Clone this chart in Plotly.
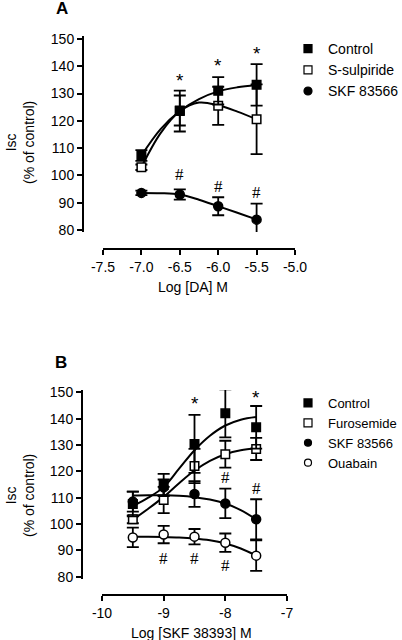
import plotly.graph_objects as go

# ---------------- data: panel A ----------------
da_x = [-7.0, -6.5, -6.0, -5.5]
a_control = [107.3, 123.6, 131.0, 133.2]
a_control_err = [2.0, 7.5, 5.0, 7.6]
a_sulp = [103.0, 123.8, 125.5, 120.6]
a_sulp_err = [1.0, 5.5, 7.0, 12.8]
a_skf = [93.6, 93.0, 88.7, 83.8]
a_skf_err = [0.8, 1.9, 3.3, 5.9]

a_fit_x = [-7.0, -6.75, -6.5, -6.25, -6.0, -5.75, -5.5]
a_fit_control = [107.3, 117.0, 123.6, 128.0, 130.8, 132.3, 133.2]
a_fit_sulp = [103.0, 115.5, 123.5, 126.7, 125.7, 123.4, 120.6]
a_fit_skf = [93.6, 93.5, 93.0, 91.1, 88.7, 86.3, 83.8]

a_xticks = [-7.5, -7.0, -6.5, -6.0, -5.5, -5.0]
a_xticktext = ["-7.5", "-7.0", "-6.5", "-6.0", "-5.5", "-5.0"]

# ---------------- data: panel B ----------------
skf_x = [-9.5, -9.0, -8.5, -8.0, -7.5]
b_control = [107.6, 114.8, 130.4, 142.0, 136.7]
b_control_err = [4.7, 4.2, 11.0, 9.1, 8.1]
b_furo = [101.8, 109.1, 122.0, 126.5, 128.5]
b_furo_err = [1.5, 5.0, 6.5, 5.1, 4.2]
b_skf = [108.5, 113.9, 111.4, 107.8, 101.8]
b_skf_err = [3.8, 3.0, 4.9, 5.6, 7.6]
b_ouab = [94.9, 96.0, 95.2, 92.9, 88.0]
b_ouab_err = [3.7, 3.3, 2.9, 3.5, 5.8]

b_fit_x = [-9.5, -9.25, -9.0, -8.75, -8.5, -8.25, -8.0, -7.75, -7.5]
b_fit_control = [106.8, 110.0, 114.0, 121.0, 128.0, 133.5, 137.4, 139.6, 140.6]
b_fit_furo = [101.6, 105.8, 110.3, 115.5, 120.3, 124.0, 126.5, 128.0, 128.8]
b_fit_skf = [110.8, 110.9, 110.9, 110.7, 110.2, 109.3, 107.8, 105.3, 101.8]
b_fit_ouab = [95.2, 95.2, 95.1, 94.9, 94.5, 93.8, 92.6, 90.7, 88.0]

b_xticks = [-10, -9, -8, -7]
b_xticktext = ["-10", "-9", "-8", "-7"]

y_ticks = [80, 90, 100, 110, 120, 130, 140, 150]

# significance marks (x, y in data units)
a_star = [(-6.5, 136.1), (-6.0, 141.6), (-5.5, 146.0)]
a_hash = [(-6.5, 100.2), (-6.0, 95.8), (-5.5, 93.6)]
b_star = [(-8.5, 147.1), (-8.0, 155.8), (-7.5, 149.7)]
b_hash = [(-8.0, 117.8), (-7.5, 113.3), (-9.0, 87.1), (-8.5, 87.1), (-8.0, 84.1), (-7.5, 78.0)]

# ---------------- layout helpers ----------------
W, H = 402, 640
def px(x):
    return x / W
def py(y):
    return 1 - y / H

FONT = "Liberation Sans, Arial, sans-serif"
SERIF = "Liberation Serif, Times New Roman, serif"

fig = go.Figure()

def fit_line(x, y, xa, ya):
    fig.add_trace(go.Scatter(x=x, y=y, mode="lines", line=dict(color="black", width=2, shape="spline"),
                             xaxis=xa, yaxis=ya, showlegend=False, hoverinfo="skip", cliponaxis=False))

def points(x, y, err, symbol, fill, size, xa, ya):
    fig.add_trace(go.Scatter(x=x, y=y, mode="markers",
                             marker=dict(symbol=symbol, size=size, color=fill, line=dict(color="black", width=1.5)),
                             error_y=dict(type="data", array=err, visible=True, color="black", thickness=1.8, width=6),
                             xaxis=xa, yaxis=ya, showlegend=False, cliponaxis=False))

def legend_entry(name, symbol, fill, size, xa, ya, leg):
    fig.add_trace(go.Scatter(x=[None], y=[None], mode="markers", name=name,
                             marker=dict(symbol=symbol, size=size, color=fill, line=dict(color="black", width=1.2)),
                             xaxis=xa, yaxis=ya, legend=leg, showlegend=True))

# Panel A
fit_line(a_fit_x, a_fit_control, "x", "y")
fit_line(a_fit_x, a_fit_sulp, "x", "y")
fit_line(a_fit_x, a_fit_skf, "x", "y")
points(da_x, a_skf, a_skf_err, "circle", "black", 9, "x", "y")
points(da_x, a_sulp, a_sulp_err, "square", "white", 8.5, "x", "y")
points(da_x, a_control, a_control_err, "square", "black", 8.5, "x", "y")
legend_entry("Control", "square", "black", 8, "x", "y", "legend")
legend_entry("S-sulpiride", "square", "white", 8, "x", "y", "legend")
legend_entry("SKF 83566", "circle", "black", 8, "x", "y", "legend")

# Panel B
fit_line(b_fit_x, b_fit_control, "x2", "y2")
fit_line(b_fit_x, b_fit_furo, "x2", "y2")
fit_line(b_fit_x, b_fit_skf, "x2", "y2")
fit_line(b_fit_x, b_fit_ouab, "x2", "y2")
points(skf_x, b_ouab, b_ouab_err, "circle", "white", 9, "x2", "y2")
points(skf_x, b_skf, b_skf_err, "circle", "black", 9, "x2", "y2")
points(skf_x, b_furo, b_furo_err, "square", "white", 8.5, "x2", "y2")
points(skf_x, b_control, b_control_err, "square", "black", 8.5, "x2", "y2")
legend_entry("Control", "square", "black", 8, "x2", "y2", "legend2")
legend_entry("Furosemide", "square", "white", 8, "x2", "y2", "legend2")
legend_entry("SKF 83566", "circle", "black", 7, "x2", "y2", "legend2")
legend_entry("Ouabain", "circle", "white", 7, "x2", "y2", "legend2")

axis_common = dict(showline=True, linecolor="black", linewidth=2, ticks="outside", ticklen=5,
                   tickwidth=2, tickcolor="black", showgrid=False, zeroline=False,
                   tickfont=dict(size=14, color="black", family=FONT), anchor="free")

# A: y 150 at 39 px, 80 at 230 px  -> 2.7286 px/unit
fig.update_layout(
    xaxis=dict(domain=[px(103), px(295)], range=[-7.5, -5.0], position=py(249),
               tickvals=a_xticks, ticktext=a_xticktext, **axis_common),
    yaxis=dict(domain=[py(232), py(36)], range=[79.27, 151.1], position=px(83),
               tickvals=y_ticks, **axis_common),
    xaxis2=dict(domain=[px(102), px(287)], range=[-10, -7], position=py(595),
                tickvals=b_xticks, ticktext=b_xticktext, **axis_common),
    yaxis2=dict(domain=[py(579), py(390)], range=[79.13, 150.87], position=px(82),
                tickvals=y_ticks, **axis_common),
)

ann = []
def paper_text(text, x, y, size=14, angle=0, family=FONT):
    ann.append(dict(text=text, x=px(x), y=py(y), xref="paper", yref="paper", showarrow=False,
                    xanchor="center", yanchor="middle", textangle=angle,
                    font=dict(size=size, family=family, color="black")))

paper_text("<b>A</b>", 62, 9, size=17)
paper_text("<b>B</b>", 61, 362, size=17)
paper_text("Isc<br>(% of control)", 20, 143, angle=-90)
paper_text("Isc<br>(% of control)", 20, 496, angle=-90)
paper_text("Log [DA] M", 193, 287)
paper_text("Log [SKF 38393] M", 191, 633)

def mark(text, x, y, xr, yr, family, size, yshift=0):
    ann.append(dict(text=text, x=x, y=y, xref=xr, yref=yr, showarrow=False, xanchor="center",
                    yanchor="middle", yshift=yshift, font=dict(size=size, family=family, color="black")))

for (x, y) in a_star:
    mark("*", x, y, "x", "y", FONT, 19, -4)
for (x, y) in a_hash:
    mark("#", x, y, "x", "y", SERIF, 17)
for (x, y) in b_star:
    mark("*", x, y, "x2", "y2", FONT, 19, -4)
for (x, y) in b_hash:
    mark("#", x, y, "x2", "y2", SERIF, 17)

fig.update_layout(
    width=W, height=H, margin=dict(l=0, r=0, t=0, b=0, autoexpand=False),
    paper_bgcolor="white", plot_bgcolor="white",
    font=dict(family=FONT, size=14, color="black"),
    annotations=ann,
    legend=dict(x=px(288), y=py(33), xanchor="left", yanchor="top", bgcolor="rgba(0,0,0,0)",
                font=dict(size=14, family=FONT, color="black"), tracegroupgap=0),
    legend2=dict(x=px(288), y=py(388), xanchor="left", yanchor="top", bgcolor="rgba(0,0,0,0)",
                 font=dict(size=13, family=FONT, color="black"), tracegroupgap=0),
)

fig.write_html("out.html", config={"displayModeBar": False},
               post_script="document.body.style.margin='0px';")
